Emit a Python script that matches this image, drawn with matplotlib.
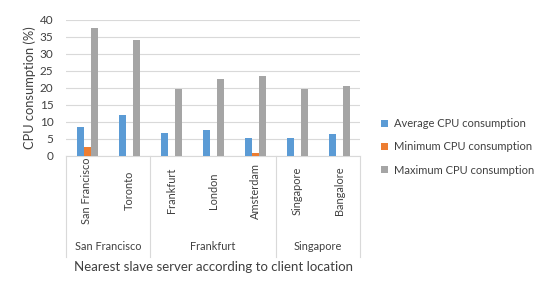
import matplotlib
matplotlib.use("Agg")
import matplotlib.pyplot as plt
import matplotlib.transforms as mtransforms
import numpy as np

categories = ["San Francisco", "Toronto", "Frankfurt", "London", "Amsterdam", "Singapore", "Bangalore"]
groups = ["San Francisco", "Frankfurt", "Singapore"]
group_sizes = [2, 3, 2]
avg_cpu = [8.5, 12.0, 6.5, 7.5, 5.1, 5.1, 6.2]
min_cpu = [2.5, 0.0, 0.0, 0.0, 0.7, 0.0, 0.0]
max_cpu = [37.5, 34.2, 19.7, 22.5, 23.5, 19.5, 20.6]
series_names = ["Average CPU consumption", "Minimum CPU consumption", "Maximum CPU consumption"]
colors = ["#5B9BD5", "#ED7D31", "#A5A5A5"]
yticks = [0, 5, 10, 15, 20, 25, 30, 35, 40]

plt.rcParams['font.family'] = ['Lato', 'DejaVu Sans']
txt = "#404040"

fig = plt.figure(figsize=(5.5, 2.96), dpi=100)
ax = fig.add_axes([66/550, 1-155.5/296, (360-66)/550, (155.5-20)/296])

x = np.arange(len(categories))
w = 1/6
for i, (vals, name, c) in enumerate(zip([avg_cpu, min_cpu, max_cpu], series_names, colors)):
    ax.bar(x + (i-1)*w, vals, width=w, color=c, label=name, zorder=3)

ax.set_xlim(-0.5, len(categories)-0.5)
ax.set_ylim(0, 40)
ax.set_yticks(yticks)
ax.set_yticklabels([str(v) for v in yticks], fontsize=8.5, color=txt)
ax.tick_params(axis='y', length=0, pad=9)
ax.grid(axis='y', color="#D9D9D9", linewidth=0.8, zorder=0)
for s in ["top", "right", "left"]:
    ax.spines[s].set_visible(False)
ax.spines["bottom"].set_color("#D9D9D9")
ax.spines["bottom"].set_linewidth(0.8)

ax.set_xticks(x)
ax.set_xticklabels([])
ax.tick_params(axis='x', length=0)

trans = mtransforms.blended_transform_factory(ax.transData, ax.transAxes)
for xi, cat in zip(x, categories):
    ax.text(xi, -0.26, cat, transform=trans, rotation=90, ha='center', va='center',
            fontsize=7.9, color=txt)

ax.set_ylabel("CPU consumption (%)", fontsize=9.3, color=txt, labelpad=3)

bounds = np.concatenate([[0], np.cumsum(group_sizes)]) - 0.5
for b in bounds:
    ax.plot([b, b], [0, -0.75], transform=trans, color="#D9D9D9", linewidth=0.8, clip_on=False)
for g, lo, hi in zip(groups, bounds[:-1], bounds[1:]):
    ax.text((lo+hi)/2, -0.675, g, transform=trans, ha='center', va='center', fontsize=7.9, color=txt)

ax.text(0.5, -0.823, "Nearest slave server according to client location", transform=ax.transAxes,
        ha='center', va='center', fontsize=9.5, color=txt)

ax.legend(loc='center left', bbox_to_anchor=(1.071, 0.063), frameon=False, fontsize=8,
          borderaxespad=0, borderpad=0,
          handlelength=0.6, handleheight=0.6, handletextpad=0.55, labelspacing=1.1,
          labelcolor=txt)

fig.savefig("out.png", dpi=100)
